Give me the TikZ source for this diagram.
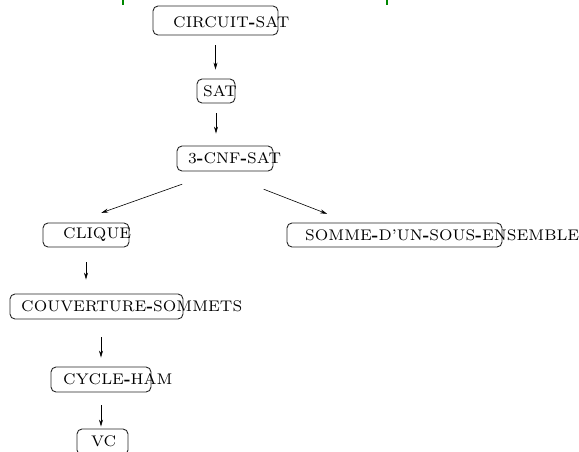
\documentclass[tikz,border=0pt]{standalone}
\usepackage{graphicx}
\usetikzlibrary{arrows.meta}
\definecolor{tickgreen}{RGB}{0,135,0}
\newcommand{\pname}[1]{\scalebox{2.2}{\scriptsize #1}}
\newcommand{\hy}{\textbf{-}}
\tikzset{
  pbox/.style={draw=black!85, line width=0.9pt, rounded corners=5pt, inner sep=0pt},
  ptext/.style={anchor=west, inner sep=0pt},
  redarrow/.style={-{Stealth[length=7pt,width=4pt]}, line width=0.6pt},
}
\begin{document}
\begin{tikzpicture}[x=1pt, y=-1pt]
		\useasboundingbox (0,0) rectangle (579,451);
		%%%%% START %%%%%
		
		\draw[tickgreen, line width=2pt] (123,0) -- (123,5);
		\draw[tickgreen, line width=2pt] (387,0) -- (387,5);
		
		\node[pbox, minimum width=125pt, minimum height=29pt] (circuitbox) at (215.5,20.5) {};
		\node[ptext] (circuit) at (173,22) {\pname{CIRCUIT\hy SAT}};
		
		\node[pbox, minimum width=38pt, minimum height=24pt] (satbox) at (216,91) {};
		\node[ptext] (sat) at (203,91) {\pname{SAT}};
		
		\node[pbox, minimum width=96pt, minimum height=25pt] (cnfbox) at (225,158.5) {};
		\node[ptext] (cnf) at (188,158.5) {\pname{3\hy CNF\hy SAT}};
		
		\node[pbox, minimum width=86pt, minimum height=24pt] (cliquebox) at (86,235) {};
		\node[ptext] (clique) at (63,235) {\pname{CLIQUE}};
		
		\node[pbox, minimum width=215pt, minimum height=24pt] (sommebox) at (394.5,235) {};
		\node[ptext] (somme) at (305,235) {\pname{SOMME\hy D'UN\hy SOUS\hy ENSEMBLE}};
		
		\node[pbox, minimum width=173pt, minimum height=25pt] (couvbox) at (96.5,306.5) {};
		\node[ptext] (couv) at (21,306.5) {\pname{COUVERTURE\hy SOMMETS}};
		
		\node[pbox, minimum width=100pt, minimum height=25pt] (cyclebox) at (101,379.5) {};
		\node[ptext] (cycle) at (63,379.5) {\pname{CYCLE\hy HAM}};
		
		\node[pbox, minimum width=51pt, minimum height=26pt] (vcbox) at (102.5,442) {};
		\node[ptext] (vc) at (91,441) {\pname{VC}};
		
		\draw[redarrow, shorten <=10pt, shorten >=9pt] (circuitbox.south) -- (circuitbox.south |- satbox.north);
		\draw[redarrow, shorten <=10pt, shorten >=12pt] (satbox.south) -- (satbox.south |- cnfbox.north);
		\draw[redarrow, shorten <=38pt, shorten >=29pt] ([xshift=-7pt]cnfbox.south) -- ([xshift=-12pt]cliquebox.north);
		\draw[redarrow, shorten <=49pt, shorten >=24pt] ([xshift=-7pt]cnfbox.south) -- ([xshift=-45pt]sommebox.north);
		\draw[redarrow, shorten <=15pt, shorten >=14pt] (cliquebox.south) -- (cliquebox.south |- couvbox.north);
		\draw[redarrow, shorten <=18pt, shorten >=9pt] (cyclebox.north |- couvbox.south) -- (cyclebox.north);
		\draw[redarrow, shorten <=13pt, shorten >=2pt] (cyclebox.south) -- (cyclebox.south |- vcbox.north);
		
		%%%%% END %%%%%
	\end{tikzpicture}
\end{document}
